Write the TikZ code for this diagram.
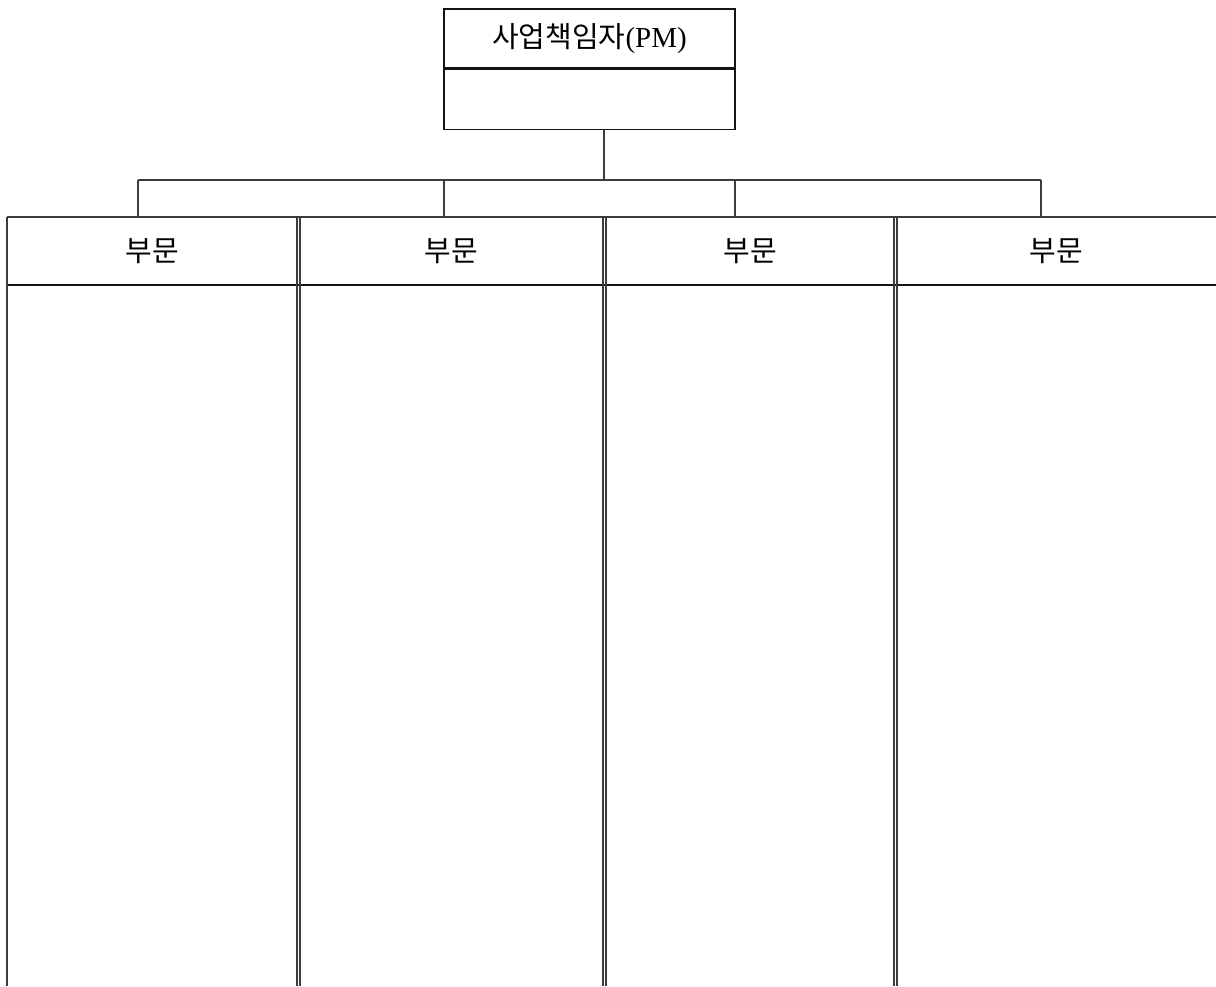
\documentclass[tikz,border=0pt]{standalone}
\usepackage{fontspec}
\setmainfont{Liberation Serif}
\newfontfamily\kr{Noto Sans CJK KR}
\usetikzlibrary{positioning}
\definecolor{linegray}{RGB}{60,60,60}
\definecolor{boxblack}{RGB}{20,20,20}
\tikzset{
  chartline/.style={draw=linegray, line width=1.2pt},
  pmbox/.style={draw=boxblack, line width=1.2pt, minimum width=291pt, minimum height=59pt, inner sep=0pt, font=\fontsize{29}{33}\selectfont},
  parthead/.style={minimum height=68pt, inner sep=0pt, font=\kr\fontsize{29}{33}\selectfont}
}

\begin{document}
\begin{tikzpicture}[x=1pt,y=-1pt]
\useasboundingbox (0,0) rectangle (1216,986);

% project manager box
\node[pmbox] (pm) at (589.5,38.5) {\raisebox{-2pt}{{\kr 사업책임자}(PM)}};
\node[pmbox, minimum height=60pt, anchor=north] (pmrole) at (pm.south) {};

% part headers
\node[parthead] (bu1) at (152,251) {\raisebox{-2pt}{부문}};
\node[parthead] (bu2) at (451.5,251) {\raisebox{-2pt}{부문}};
\node[parthead] (bu3) at (750,251) {\raisebox{-2pt}{부문}};
\node[parthead] (bu4) at (1056.5,251) {\raisebox{-2pt}{부문}};

% bus
\coordinate (stem) at ([xshift=14.5pt]pmrole.south);
\coordinate (b1) at (138,180);
\coordinate (b2) at (444,180);
\coordinate (b3) at (735,180);
\coordinate (b4) at (1041,180);
\draw[chartline] (stem) -- (stem |- b1);
\draw[chartline] (b1) -- (b4);
\foreach \i in {1,...,4}
  \draw[chartline] (b\i) -- (b\i |- bu\i.north);

% table of parts
\draw[chartline] (7,217) -- (1216,217);
\draw[chartline, draw=boxblack] (7,285) -- (1216,285);
\draw[chartline] (7,217) -- (7,986);
\foreach \x in {297,603,894} {
  \draw[chartline] (\x,217) -- (\x,986);
  \draw[chartline] (\x+3,217) -- (\x+3,986);
}

\end{tikzpicture}
\end{document}
